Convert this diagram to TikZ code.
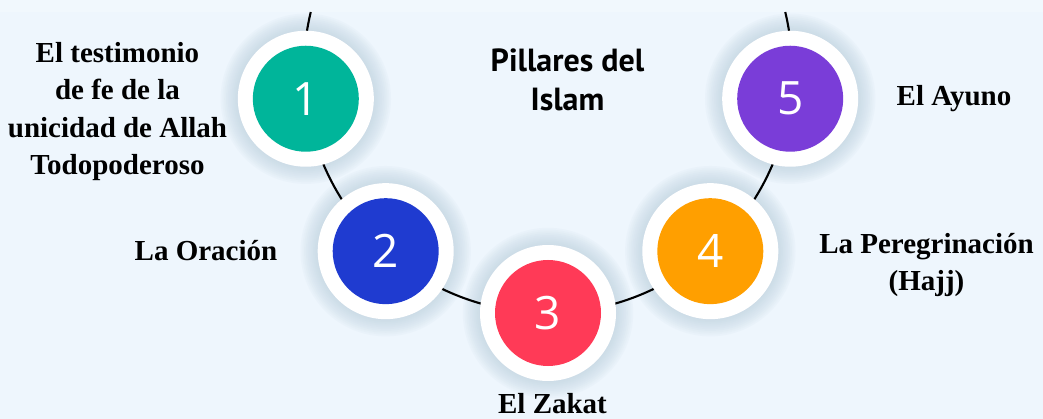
\documentclass[tikz,border=0pt]{standalone}
\usepackage{fontspec}
\usepackage{tikz}
\usetikzlibrary{calc,positioning}
\setmainfont{Liberation Serif}
\newfontfamily\titlefont{PT Sans}
\newfontfamily\numfont{Open Sans}
\definecolor{bgblue}{HTML}{EEF6FD}
\definecolor{topblue}{HTML}{F1F8FD}
\definecolor{shadowblue}{HTML}{B8CEDD}
\definecolor{pteal}{HTML}{00B59A}
\definecolor{pblue}{HTML}{1F3BD0}
\definecolor{pred}{HTML}{FF3A57}
\definecolor{porange}{HTML}{FF9F00}
\definecolor{ppurple}{HTML}{7A3DD8}

\begin{document}
\begin{tikzpicture}[x=1pt,y=-1pt,
  ring/.style={circle,fill=white,minimum size=136pt,inner sep=0pt},
  pillar/.style={circle,fill=#1,minimum size=106pt,inner sep=0pt,text=white,font=\numfont\fontsize{46}{46}\selectfont},
  lbl/.style={font=\bfseries\fontsize{29}{37.5}\selectfont,align=center},
  title/.style={font=\titlefont\bfseries\fontsize{32}{39}\selectfont,align=center}]
\useasboundingbox (0,0) rectangle (1043,419);
\fill[bgblue] (0,0) rectangle (1043,419);
\fill[topblue] (0,0) rectangle (1043,12);
\coordinate (ctr) at (548,69);
% soft shadows behind the rings
\foreach \ang in {173,131.7,90,48.3,7}
  \foreach \s in {0,...,9}
    \fill[shadowblue,opacity=0.08] ($(ctr)+(\ang:244)$) circle[radius=69+1.8*\s];
\draw[line width=2.1pt] ($(ctr)+(193.5:244)$) coordinate(arcL) arc[start angle=193.5,end angle=-13.5,radius=244] coordinate(arcR);
\foreach \ang/\col/\num in {173/pteal/1,131.7/pblue/2,90/pred/3,48.3/porange/4,7/ppurple/5}{
  \node[ring] (ring\num) at ($(ctr)+(\ang:244)$) {};
  \node[pillar=\col] (pil\num) at (ring\num) {\num};
}
\node[title] (tit) at (567.5,79.5) {Pillares del\\Islam};
\node[lbl] (lbl1) at (117.5,111.5) {El testimonio\\de fe de la\\unicidad de Allah\\Todopoderoso};
\node[lbl,anchor=base] (lbl2) at (206,261) {La Oración};
\node[lbl,anchor=base] (lbl3) at (552.5,413) {El Zakat};
\node[lbl] (lbl4) at (926.5,265) {La Peregrinación\\(Hajj)};
\node[lbl,anchor=base] (lbl5) at (954,106) {El Ayuno};
\end{tikzpicture}
\end{document}
